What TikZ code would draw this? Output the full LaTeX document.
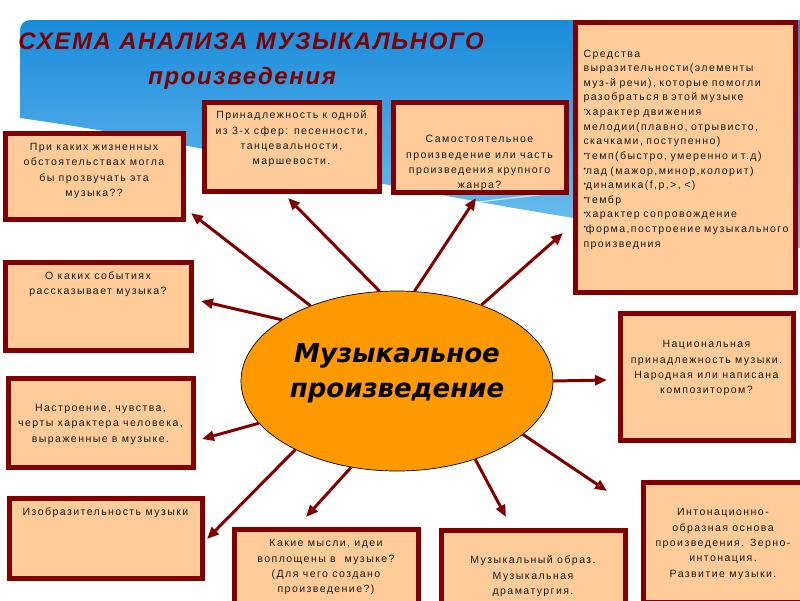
\documentclass[tikz,border=0pt]{standalone}
\usepackage{fontspec}
\setmainfont{Liberation Sans}
\newfontfamily\cardfont[LetterSpace=13.5]{Liberation Sans}
\newfontfamily\headfont[LetterSpace=7]{Liberation Sans}
\newfontfamily\workfont{DejaVu Sans}
\usetikzlibrary{shapes.geometric,arrows.meta}

\newlength{\pxu}\setlength{\pxu}{0.025cm}
\newcommand{\bul}{\raisebox{0.45ex}{\fontsize{5}{5}\selectfont •}}

\definecolor{frame}{HTML}{800000}
\definecolor{peach}{HTML}{FFCC99}
\definecolor{workfill}{HTML}{FF9900}
\definecolor{skytop}{HTML}{1B8BDB}
\definecolor{skylow}{HTML}{72C2F0}
\definecolor{ink}{HTML}{1A1A1A}

\tikzset{
  card/.style={draw=frame,line width=5\pxu,fill=peach,anchor=north west,inner xsep=2\pxu,inner ysep=0pt,
    align=center,text=ink,font=\cardfont\fontsize{7.5}{10.9}\selectfont},
  ray/.style={draw=frame,line width=3\pxu,-{Triangle[length=8.5pt,width=7pt]}}
}

\begin{document}
\begin{tikzpicture}[x=0.025cm,y=-0.025cm]
\useasboundingbox (0,0) rectangle (800,600);

% sky
\shade[top color=skytop,bottom color=skylow] (800,248) -- (800,20) [rounded corners=10\pxu] -- (20,20) [sharp corners] -- (20,118)
  .. controls (250,150) and (480,215) .. (800,248) -- cycle;
\draw[white,line width=1.2\pxu,opacity=.7] (440,208) .. controls (480,201) and (520,197) .. (565,192);

\node[anchor=base west,align=left,inner sep=0pt,text=frame,font=\headfont\bfseries\itshape\fontsize{17}{24.2}\selectfont] (title) at (18,84)
  {СХЕМА АНАЛИЗА МУЗЫКАЛЬНОГО\\\hspace*{130\pxu}произведения};

\node[ellipse,draw=black,line width=0.5pt,fill=workfill,minimum width=312\pxu,minimum height=180\pxu,inner sep=0pt,align=center,
  text height=60\pxu,text depth=28\pxu,font=\workfont\bfseries\itshape\fontsize{18.5}{24.2}\selectfont] (work) at (397,381)
  {Музыкальное\\произведение};

\node[card,minimum width=178\pxu,text height=63.4\pxu,text depth=22.6\pxu] (life) at (2.5,130.5)
  {При каких жизненных\\обстоятельствах могла\\бы прозвучать эта\\музыка??};
\node[card,minimum width=175\pxu,text height=62.9\pxu,text depth=26.1\pxu] (sphere) at (201.5,99.5)
  {Принадлежность к одной\\из 3-х сфер: песенности,\\танцевальности,\\маршевости.};
\node[card,minimum width=173\pxu,text height=86.9\pxu,text depth=3.1\pxu] (genre) at (390.5,99.5)
  {Самостоятельное\\произведение или часть\\произведения крупного\\жанра?};
\node[card,align=left,text width=203\pxu,inner xsep=8.5\pxu,text height=35\pxu,text depth=235\pxu,
  font=\cardfont\fontsize{7.5}{10.4}\selectfont] (means) at (572.5,19.5)
  {Средства\\выразительности(элементы\\муз-й речи), которые помогли\\разобраться в этой музыке\\
   \bul характер движения\\мелодии(плавно, отрывисто,\\скачками, поступенно)\\\bul темп(быстро, умеренно и т.д)\\
   \bul лад (мажор,минор,колорит)\\\bul динамика(f,p,>, <)\\\bul тембр\\\bul характер сопровождение\\
   \mbox{\bul форма,построение музыкального}\\произведния};
\node[card,minimum width=186\pxu,text height=32.8\pxu,text depth=55.2\pxu] (events) at (2.5,259.5)
  {О каких событиях\\рассказывает музыка?};
\node[card,minimum width=185\pxu,text height=64.1\pxu,text depth=24.9\pxu] (mood) at (5.5,375.5)
  {Настроение, чувства,\\черты характера человека,\\выраженные в музыке.};
\node[card,minimum width=173\pxu,text height=80.9\pxu,text depth=46.1\pxu] (nation) at (617.5,310.5)
  {Национальная\\принадлежность музыки.\\Народная или написана\\композитором?};
\node[card,minimum width=193\pxu,text height=17.5\pxu,text depth=62.5\pxu] (depict) at (6.5,495.5)
  {Изобразительность музыки};
\node[card,minimum width=184\pxu,text height=63.9\pxu,text depth=16.1\pxu] (ideas) at (231.5,526.5)
  {Какие мысли, идеи\\воплощены в\ \ музыке?\\(Для чего создано\\произведение?)};
\node[card,minimum width=184\pxu,text height=64.6\pxu,text depth=15.4\pxu] (image) at (438.5,527.5)
  {Музыкальный образ.\\Музыкальная\\драматургия.};
\node[card,minimum width=160\pxu,text height=95.2\pxu,text depth=24.8\pxu] (inton) at (640.5,479.5)
  {Интонационно-\\образная основа\\произведения. Зерно-\\интонация.\\Развитие музыки.};

\coordinate (tlife) at (191,213);
\coordinate (tsphere) at (288,198);
\coordinate (tgenre) at (476,198);
\coordinate (tmeans) at (563,233);
\coordinate (tevents) at (201,301);
\coordinate (tnation) at (607,380);
\coordinate (tmood) at (202,439);
\coordinate (tinton) at (607,491);
\coordinate (tdepict) at (207,539);
\coordinate (tideas) at (306,517);
\coordinate (timage) at (506,517);

\draw[ray] (work.139) -- (tlife);
\draw[ray] (work.101) -- (tsphere);
\draw[ray] (work.79) -- (tgenre);
\draw[ray] (work.42) -- (tmeans);
\draw[ray] (work.152) -- (tevents);
\draw[ray] (work.0) -- (tnation);
\draw[ray] (work.197) -- (tmood);
\draw[ray] (work.337) -- (tinton);
\draw[ray] (work.214) -- (tdepict);
\draw[ray] (work.242) -- (tideas);
\draw[ray] (work.315) -- (timage);

\end{tikzpicture}
\end{document}
